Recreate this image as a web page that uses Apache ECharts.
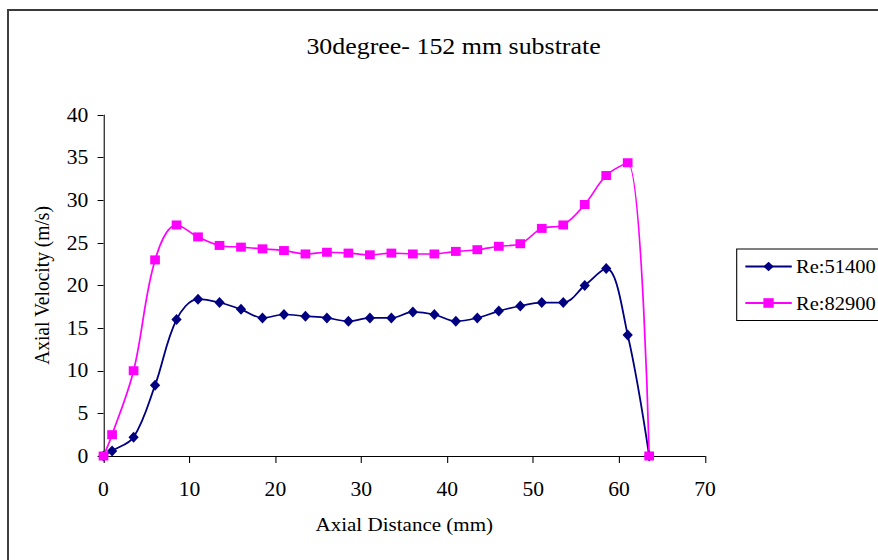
<!DOCTYPE html>
<html>
<head>
<meta charset="utf-8">
<script src="https://cdn.jsdelivr.net/npm/echarts@6/dist/echarts.min.js"></script>
<style>
  html, body { margin: 0; padding: 0; background: #fff; overflow: hidden; }
  /* the source picture is stretched sideways a little, so draw narrow and widen it */
  #chart { position: absolute; left: 0; top: 0; height: 560px; transform-origin: 0 0; }
</style>
</head>
<body>
<div id="chart"></div>
<script>
// axial distance (mm)
const xDist = [0, 1, 3.5, 6, 8.5, 11, 13.5, 16, 18.5, 21, 23.5, 26, 28.5, 31, 33.5, 36, 38.5, 41, 43.5, 46, 48.5, 51, 53.5, 56, 58.5, 61, 63.5]
// axial velocity (m/s)
const re51400 = [0, 0.6, 2.2, 8.3, 16.0, 18.4, 18.0, 17.2, 16.2, 16.6, 16.4, 16.2, 15.8, 16.2, 16.2, 16.9, 16.6, 15.8, 16.2, 17.0, 17.6, 18.0, 18.0, 20.0, 22.0, 14.2, 0]
const re82900 = [0, 2.5, 10.0, 23.0, 27.1, 25.7, 24.7, 24.5, 24.3, 24.1, 23.7, 23.9, 23.8, 23.6, 23.8, 23.7, 23.7, 24.0, 24.2, 24.6, 24.9, 26.7, 27.1, 29.5, 32.9, 34.4, 0]
const seriesNames = ['Re:51400', 'Re:82900']

const SX = 1.08
const W = 878 / SX
const el = document.getElementById('chart')
el.style.width = W + 'px'
el.style.transform = 'scaleX(' + SX + ')'

const font = "'Liberation Serif', 'Times New Roman', serif"
const pairs = (ys) => xDist.map((x, i) => [x, ys[i]])

const chart = echarts.init(el, null, { renderer: 'svg' })
chart.setOption({
  animation: false,
  backgroundColor: '#fff',
  textStyle: { fontFamily: font, color: '#000' },
  title: {
    text: '30degree- 152 mm substrate',
    left: 301 / SX,
    top: 29,
    textStyle: { fontFamily: font, fontSize: 24, fontWeight: 'normal', color: '#000' }
  },
  graphic: [{
    type: 'rect',
    shape: { x: 8 / SX, y: 10, width: 1000, height: 1000 },
    style: { fill: 'none', stroke: '#3a3a3a', lineWidth: 1.8 },
    silent: true
  }],
  legend: {
    orient: 'vertical',
    left: 736.7 / SX,
    top: 249,
    padding: [8, 60, 8, 7],
    borderColor: '#000',
    borderWidth: 1,
    itemWidth: 43,
    itemHeight: 12,
    itemGap: 17.5,
    textStyle: { fontFamily: font, fontSize: 19, color: '#000', padding: [0, 0, 0, -1] },
    data: seriesNames
  },
  grid: {
    left: 103.5 / SX,
    right: (878 - 705) / SX,
    top: 115,
    bottom: 104
  },
  xAxis: {
    type: 'value',
    min: 0,
    max: 70,
    interval: 10,
    name: 'Axial Distance (mm)',
    nameLocation: 'middle',
    nameGap: 58,
    nameTextStyle: { fontFamily: font, fontSize: 19.5, color: '#000' },
    axisLine: { onZero: false, lineStyle: { color: '#000', width: 1 } },
    axisTick: { inside: false, length: 7, lineStyle: { color: '#000' } },
    axisLabel: { margin: 23, fontFamily: font, fontSize: 20, color: '#000' },
    splitLine: { show: false }
  },
  yAxis: {
    type: 'value',
    min: 0,
    max: 40,
    interval: 5,
    name: 'Axial Velocity (m/s)',
    nameLocation: 'middle',
    nameGap: 47,
    nameTextStyle: { fontFamily: font, fontSize: 19.5, color: '#000' },
    axisLine: { show: true, lineStyle: { color: '#000', width: 1 } },
    axisTick: { show: true, inside: false, length: 5.5, lineStyle: { color: '#000' } },
    axisLabel: { margin: 14, fontFamily: font, fontSize: 20, color: '#000' },
    splitLine: { show: false }
  },
  series: [
    {
      name: seriesNames[0],
      type: 'line',
      data: pairs(re51400),
      smooth: 0.35,
      symbol: 'diamond',
      symbolSize: [9.5, 11],
      lineStyle: { color: '#000080', width: 1.7 },
      itemStyle: { color: '#000080' }
    },
    {
      name: seriesNames[1],
      type: 'line',
      data: pairs(re82900),
      smooth: 0.35,
      symbol: 'rect',
      symbolSize: [9, 9],
      lineStyle: { color: '#ff00ff', width: 1.6 },
      itemStyle: { color: '#ff00ff' }
    }
  ]
})
</script>
</body>
</html>
